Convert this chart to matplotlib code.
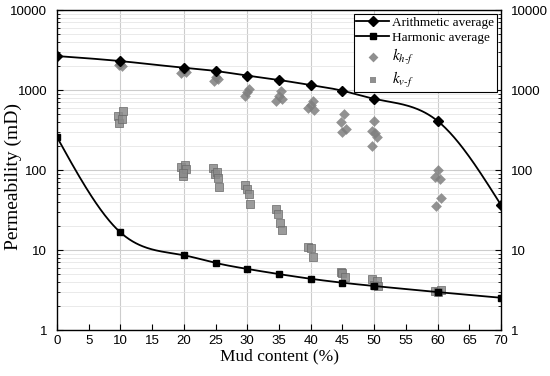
import numpy as np
import matplotlib.pyplot as plt
from matplotlib.ticker import LogLocator, NullFormatter

# averages
mud = [0, 10, 20, 25, 30, 35, 40, 45, 50, 60, 70]
arith = [2660, 2300, 1900, 1730, 1515, 1335, 1155, 980, 777, 410, 36.5]
harm = [258, 16.6, 8.6, 6.9, 5.8, 5.0, 4.37, 3.9, 3.55, 2.98, 2.53]

# measured k_h-f
kh_x = [9.7, 10.0, 10.3, 19.6, 20.0, 20.3, 24.7, 25.0, 25.4, 29.7, 30.0, 30.3,
        34.6, 35.0, 35.3, 35.5, 39.6, 40.0, 40.3, 40.5, 44.7, 45.0, 45.3, 45.5,
        49.6, 49.9, 50.2, 50.5, 49.7, 59.6, 60.0, 60.4, 59.8, 60.5]
kh_y = [2050, 2100, 2000, 1650, 1800, 1700, 1300, 1450, 1380, 850, 950, 1020,
        720, 850, 980, 780, 600, 650, 720, 560, 400, 300, 500, 330,
        310, 410, 290, 260, 200, 82, 100, 77, 35, 45]

# measured k_v-f
kv_x = [9.6, 9.8, 10.2, 10.4, 19.6, 19.9, 20.2, 20.4, 19.8, 24.6, 24.9, 25.2, 25.4,
        25.5, 29.7, 30.0, 30.3, 30.4, 34.6, 34.9, 35.2, 35.4, 39.6, 40.0, 40.4,
        44.7, 45.0, 45.4, 49.6, 50.0, 50.4, 50.6, 59.6, 60.0, 60.5]
kv_y = [470, 390, 430, 540, 110, 85, 115, 103, 92, 105, 88, 95, 80,
        62, 65, 58, 50, 38, 33, 28, 22, 18, 11, 10.5, 8.2,
        5.3, 5.1, 4.6, 4.3, 3.7, 4.1, 3.6, 3.1, 3.0, 3.2]


def spline(x, y, n=400):
    # natural cubic spline
    x = np.asarray(x, float)
    y = np.asarray(y, float)
    h = np.diff(x)
    m = len(x)
    A = np.zeros((m, m))
    b = np.zeros(m)
    A[0, 0] = A[-1, -1] = 1
    for i in range(1, m - 1):
        A[i, i - 1] = h[i - 1]
        A[i, i] = 2 * (h[i - 1] + h[i])
        A[i, i + 1] = h[i]
        b[i] = 6 * ((y[i + 1] - y[i]) / h[i] - (y[i] - y[i - 1]) / h[i - 1])
    M = np.linalg.solve(A, b)
    xs = np.linspace(x[0], x[-1], n)
    idx = np.clip(np.searchsorted(x, xs) - 1, 0, m - 2)
    x0, x1 = x[idx], x[idx + 1]
    hh = x1 - x0
    t0, t1 = x1 - xs, xs - x0
    ys = (M[idx] * t0**3 + M[idx + 1] * t1**3) / (6 * hh) \
        + (y[idx] / hh - M[idx] * hh / 6) * t0 + (y[idx + 1] / hh - M[idx + 1] * hh / 6) * t1
    return xs, ys


plt.rcParams['font.family'] = 'Liberation Sans'
plt.rcParams['mathtext.fontset'] = 'stix'
fig = plt.figure(figsize=(5.5, 3.76), dpi=100)
ax = fig.add_axes([0.1036, 0.1223, 0.8074, 0.851])

ax.set_yscale('log')
ax.set_xlim(0, 70)
ax.set_ylim(1, 10000)

for xv in range(10, 70, 10):
    ax.axvline(xv, color='#cccccc', lw=0.8, zorder=0)
ax.grid(True, which='major', axis='y', color='#cccccc', lw=0.8, zorder=0)
ax.grid(True, which='minor', axis='y', color='#e6e6e6', lw=0.6, zorder=0)

xs, ys = spline(mud, np.log10(arith))
ax.plot(xs, 10**ys, color='black', lw=1.3, zorder=3)
xs, ys = spline(mud, np.log10(harm))
ax.plot(xs, 10**ys, color='black', lw=1.3, zorder=3)

ax.scatter(kh_x, kh_y, marker='D', s=30, color='#7f7f7f', alpha=0.85, lw=0, zorder=2)
ax.scatter(kv_x, kv_y, marker='s', s=30, color='#8a8a8a', alpha=0.85,
           edgecolors='#6a6a6a', lw=0.6, zorder=2)
ax.plot(mud, arith, 'D', color='black', ms=5, zorder=4)
ax.plot(mud, harm, 's', color='black', ms=4.5, zorder=4)

# legend handles
h1, = ax.plot([], [], '-D', color='black', ms=5, lw=1.3, label='Arithmetic average')
h2, = ax.plot([], [], '-s', color='black', ms=4, lw=1.3, label='Harmonic average')
h3 = ax.scatter([], [], marker='D', s=25, color='#8f8f8f', lw=0, label=r'$k_{h\text{-}f}$')
h4 = ax.scatter([], [], marker='s', s=25, color='#8f8f8f', lw=0, label=r'$k_{v\text{-}f}$')
leg = ax.legend(handles=[h1, h2, h3, h4], loc='upper right', fancybox=False,
                edgecolor='black', framealpha=1, handlelength=2.5, borderpad=0.2,
                labelspacing=0.22, handletextpad=0.25, borderaxespad=0.3,
                prop={'family': 'Liberation Serif', 'size': 9.5})
leg.get_frame().set_linewidth(0.8)
for t in leg.get_texts()[2:]:
    t.set_fontsize(11)

ax.set_xticks(range(0, 75, 5))
ax.set_yticks([1, 10, 100, 1000, 10000])
ax.set_yticklabels(['1', '10', '100', '1000', '10000'])
ax.yaxis.set_minor_locator(LogLocator(base=10, subs=np.arange(2, 10)))
ax.yaxis.set_minor_formatter(NullFormatter())
ax.tick_params(axis='both', which='both', direction='in', labelsize=9.5,
               right=True, labelright=True, top=False)
ax.tick_params(which='major', length=4, width=0.8)
ax.tick_params(axis='y', which='major', pad=7)
ax.tick_params(which='minor', length=2, width=0.6)
for s in ax.spines.values():
    s.set_linewidth(1.0)

ax.set_xlabel('Mud content (%)', family='Liberation Serif', fontsize=12.5, labelpad=1)
ax.set_ylabel('Permeability (mD)', family='Liberation Serif', fontsize=14)
ax.yaxis.set_label_coords(-0.079, 0.48)

fig.savefig('out.png', dpi=100)
